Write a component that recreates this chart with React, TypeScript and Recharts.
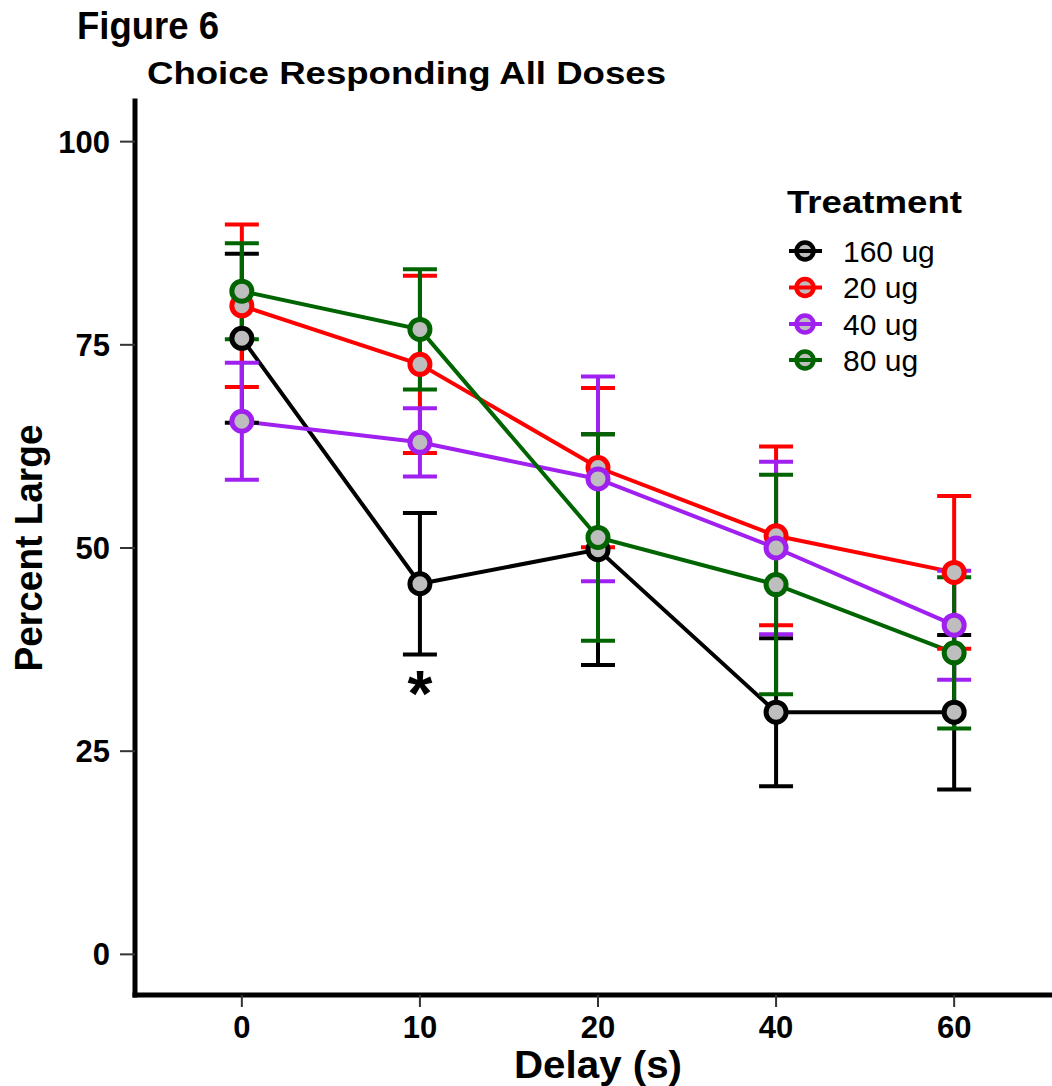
import { LineChart, Line, XAxis, YAxis, ErrorBar, ReferenceDot, Label } from 'recharts'

// delay conditions (x categories) and dose groups
const delays = ['0', '10', '20', '40', '60']
const treatments = ['160 ug', '20 ug', '40 ug', '80 ug']
const colors = ['#000000', '#ff0000', '#a020f0', '#006400']
const yTicks = [0, 25, 50, 75, 100]

// mean percent large choice per delay
const pct160 = [75.8, 45.6, 49.8, 29.8, 29.8]
const pct20 = [79.8, 72.6, 59.9, 51.5, 47.0]
const pct40 = [65.6, 63.0, 58.5, 50.0, 40.5]
const pct80 = [81.6, 76.9, 51.3, 45.5, 37.1]

// standard errors
const se160 = [10.4, 8.7, 14.2, 9.1, 9.5]
const se20 = [10.0, 10.9, 9.8, 11.0, 9.4]
const se40 = [7.2, 4.2, 12.6, 10.6, 6.7]
const se80 = [5.9, 7.4, 12.7, 13.5, 9.3]

// significance marker
const starDelay = '10'
const starValue = 33.8

const keys = ['t160', 't20', 't40', 't80']
const means = [pct160, pct20, pct40, pct80]
const errs = [se160, se20, se40, se80]

const data = delays.map((d, i) => {
  const row: any = { x: i + 1, delay: d }
  keys.forEach((k, j) => {
    row[k] = means[j][i]
    row[k + 'Err'] = errs[j][i]
  })
  return row
})

const FONT = '"Liberation Sans", Arial, Helvetica, sans-serif'
const POINT_FILL = '#bebebe'

function XTitle({ viewBox }: any) {
  const cx = viewBox.x + viewBox.width / 2
  return (
    <text x={cx} y={viewBox.y + 83} textAnchor="middle" fontSize={38} fontWeight="bold" fill="#000"
      textLength={168} lengthAdjust="spacingAndGlyphs">
      Delay (s)
    </text>
  )
}

function YTitle({ viewBox }: any) {
  const cy = viewBox.y + viewBox.height / 2
  const x = 42
  return (
    <text x={x} y={cy} transform={`rotate(-90, ${x}, ${cy})`} textAnchor="middle" fontSize={38}
      fontWeight="bold" fill="#000" textLength={247} lengthAdjust="spacingAndGlyphs">
      Percent Large
    </text>
  )
}

function Star({ cx, cy }: any) {
  return (
    <text x={cx} y={cy + 36} textAnchor="middle" fontSize={64} fontWeight="bold" fill="#000">*</text>
  )
}

function Overlay() {
  const rows = [251, 287.5, 324, 360]
  return (
    <svg width={1052} height={1086} style={{ position: 'absolute', left: 0, top: 0, pointerEvents: 'none' }}>
      <text x={77} y={39} fontSize={38} fontWeight="bold" fill="#000" textLength={142}
        lengthAdjust="spacingAndGlyphs">Figure 6</text>
      <text x={147} y={84} fontSize={32} fontWeight="bold" fill="#000" textLength={519}
        lengthAdjust="spacingAndGlyphs">Choice Responding All Doses</text>

      <text x={787} y={213} fontSize={32} fontWeight="bold" fill="#000" textLength={175}
        lengthAdjust="spacingAndGlyphs">Treatment</text>
      {treatments.map((t, i) => (
        <g key={t}>
          <circle cx={805} cy={rows[i]} r={8.5} fill={POINT_FILL} stroke={colors[i]} strokeWidth={4.5} />
          <line x1={789} x2={822} y1={rows[i]} y2={rows[i]} stroke={colors[i]} strokeWidth={4} />
          <text x={843} y={rows[i] + 10.5} fontSize={30} fill="#000">{t}</text>
        </g>
      ))}
    </svg>
  )
}

export default function App() {
  return (
    <div style={{ position: 'absolute', left: 0, top: 0, width: 1052, height: 1086, overflow: 'hidden', background: '#fff', fontFamily: FONT }}>
      <LineChart width={1100} height={1086} data={data} margin={{ top: 101, right: 39, left: 0, bottom: 31 }}>
        <XAxis
          dataKey="x"
          type="number"
          domain={[0.4, 5.6]}
          ticks={[1, 2, 3, 4, 5]}
          tickFormatter={(v) => delays[v - 1]}
          height={60}
          axisLine={{ stroke: '#000', strokeWidth: 5, strokeLinecap: 'square' }}
          tickLine={{ stroke: '#333', strokeWidth: 2 }}
          tickSize={12}
          tickMargin={9}
          tick={{ fill: '#000', fontSize: 31, fontWeight: 'bold' }}
        >
          <Label content={<XTitle />} />
        </XAxis>
        <YAxis
          type="number"
          domain={[-5, 105]}
          ticks={yTicks}
          width={135}
          axisLine={{ stroke: '#000', strokeWidth: 5, strokeLinecap: 'square' }}
          tickLine={{ stroke: '#333', strokeWidth: 2 }}
          tickSize={15}
          tickMargin={10}
          tick={{ fill: '#000', fontSize: 31, fontWeight: 'bold' }}
        >
          <Label content={<YTitle />} />
        </YAxis>

        {keys.map((k, i) => (
          <Line key={'line-' + k} dataKey={k} type="linear" stroke={colors[i]} strokeWidth={4}
            dot={false} activeDot={false} isAnimationActive={false} legendType="none" />
        ))}
        {keys.map((k, i) => (
          <Line key={'pt-' + k} dataKey={k} type="linear" stroke="none" strokeWidth={0}
            dot={{ r: 10, stroke: colors[i], strokeWidth: 5, fill: POINT_FILL }}
            activeDot={false} isAnimationActive={false} legendType="none" />
        ))}
        {keys.map((k, i) => (
          <Line key={'err-' + k} dataKey={k} type="linear" stroke="none" strokeWidth={0}
            dot={false} activeDot={false} isAnimationActive={false} legendType="none">
            <ErrorBar dataKey={k + 'Err'} direction="y" width={17} stroke={colors[i]} strokeWidth={4} />
          </Line>
        ))}

        <ReferenceDot x={delays.indexOf(starDelay) + 1} y={starValue} r={0} shape={<Star />} />
      </LineChart>
      <Overlay />
    </div>
  )
}
